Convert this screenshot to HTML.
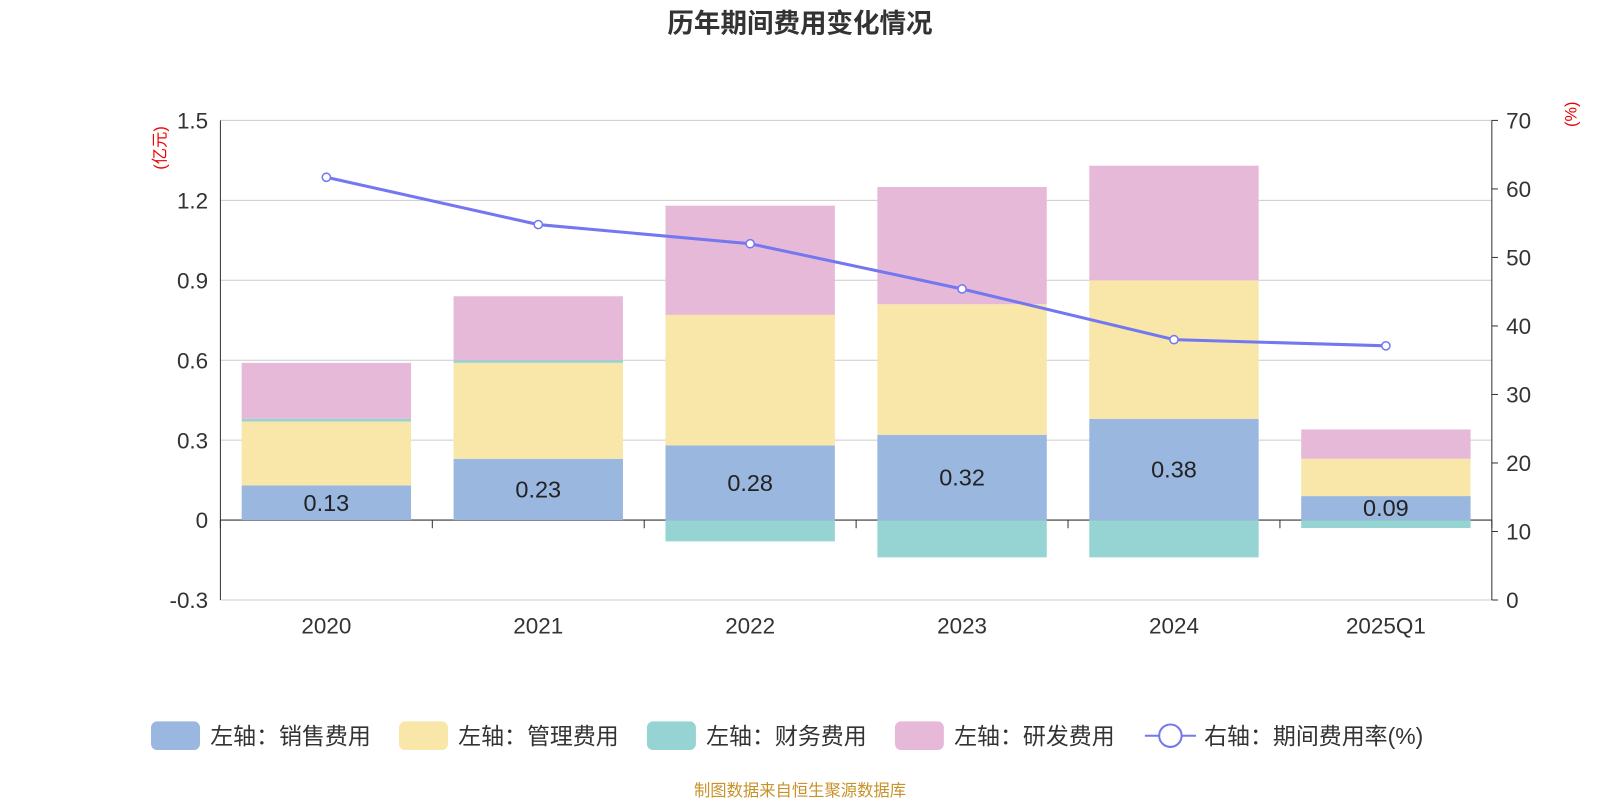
<!DOCTYPE html>
<html><head><meta charset="utf-8"><style>
html,body{margin:0;padding:0;background:#fff;}
svg{display:block;font-family:"Liberation Sans","Noto Sans CJK SC",sans-serif;}
</style></head><body>
<svg id="chart" width="1600" height="800" viewBox="0 0 1568 784" xmlns="http://www.w3.org/2000/svg">
<text x="784" y="32" text-anchor="middle" font-size="26" font-weight="bold" fill="#333">历年期间费用变化情况</text>
<text transform="translate(162,145) rotate(-90)" text-anchor="middle" font-size="16" fill="#e00">(亿元)</text>
<text transform="translate(1545,112) rotate(-90)" text-anchor="middle" font-size="16" fill="#e00">(%)</text>
<g id="grid"></g><g id="bars"></g><g id="axes"></g><g id="line"></g>
<text x="784" y="780" text-anchor="middle" font-size="16" fill="#c8922a">制图数据来自恒生聚源数据库</text>
<g id="legend"></g>
</svg>
<script>
const categories=["2020","2021","2022","2023","2024","2025Q1"];
const sales=[0.13,0.23,0.28,0.32,0.38,0.09];
const admin=[0.24,0.36,0.49,0.49,0.52,0.14];
const finance=[0.01,0.01,-0.08,-0.14,-0.14,-0.03];
const rnd=[0.21,0.24,0.41,0.44,0.43,0.11];
const rate=[61.7,54.8,52.0,45.4,38.0,37.1];
const leftTicks=[-0.3,0,0.3,0.6,0.9,1.2,1.5];
const leftTickLabels=["-0.3","0","0.3","0.6","0.9","1.2","1.5"];
const rightTicks=[0,10,20,30,40,50,60,70];
const NS="http://www.w3.org/2000/svg";
const X0=216,X1=1462,YT=118,YB=588;
const yL=v=>YB-(v+0.3)/1.8*(YB-YT);
const yR=v=>YB-v/70*(YB-YT);
const bw=(X1-X0)/categories.length;
const xc=i=>X0+bw*(i+0.5);
function mk(p,tag,at,txt){const e=document.createElementNS(NS,tag);for(const k in at)e.setAttribute(k,at[k]);if(txt!==undefined)e.textContent=txt;document.getElementById(p).appendChild(e);return e;}
leftTicks.forEach((t,i)=>{
 const g=mk('grid','line',{x1:X0,x2:X1,y1:yL(t),y2:yL(t),stroke:t===0?'#333':'#ccc','stroke-width':t===0?1.2:1});
 
 
 const l=mk('axes','text',{x:X0-12,y:yL(t)+8,'text-anchor':'end','font-size':22,fill:'#333'},leftTickLabels[i]);
 
 
});
rightTicks.forEach(t=>{
 const l=mk('axes','text',{x:X1+14,y:yR(t)+8,'font-size':22,fill:'#333'},String(t));
 
 
 mk('axes','line',{x1:X1,x2:X1+6,y1:yR(t),y2:yR(t),stroke:'#333'});
});
mk('axes','line',{x1:X0,x2:X0,y1:YT,y2:YB,stroke:'#333'});
mk('axes','line',{x1:X1,x2:X1,y1:YT,y2:YB,stroke:'#333'});
for(let i=0;i<=categories.length;i++)mk('axes','line',{x1:X0+bw*i,x2:X0+bw*i,y1:yL(0),y2:yL(0)+8,stroke:'#333'});
const BW=166;
categories.forEach((c,i)=>{
 const x=xc(i)-BW/2;
 const l=mk('axes','text',{x:xc(i),y:621,'text-anchor':'middle','font-size':22,fill:'#333'},c);
 
 
 let pos=0;
 const seg=(v,col,name)=>{const r=mk('bars','rect',{x:x,width:BW,y:yL(pos+v),height:yL(pos)-yL(pos+v),fill:col});pos+=v;};
 seg(sales[i],'#9ab7e0','bar-sales');
 seg(admin[i],'#f8e7a8','bar-admin');
 if(finance[i]>=0){seg(finance[i],'#96d3d3','bar-finance');}
 else{const r=mk('bars','rect',{x:x,width:BW,y:yL(0),height:yL(finance[i])-yL(0),fill:'#96d3d3'});}
 seg(rnd[i],'#e7b9d8','bar-rnd');
 const t=mk('bars','text',{x:xc(i),y:(yL(0)+yL(sales[i]))/2+8,'text-anchor':'middle','font-size':23,fill:'#222'},sales[i].toFixed(2));
 
 
});
const p=mk('line','polyline',{points:rate.map((v,i)=>xc(i)+','+yR(v)).join(' '),fill:'none',stroke:'#7378f0','stroke-width':3});


rate.forEach((v,i)=>{const c=mk('line','circle',{cx:xc(i),cy:yR(v),r:4,fill:'#fff',stroke:'#7378f0','stroke-width':1.5});});
const leg=[["左轴：销售费用",'#9ab7e0',148],["左轴：管理费用",'#f8e7a8',391],["左轴：财务费用",'#96d3d3',634],["左轴：研发费用",'#e7b9d8',877]];
leg.forEach(([t,c,x])=>{
 const r=mk('legend','rect',{x:x,y:707,width:48,height:28,rx:6,fill:c});
 
 
 const tx=mk('legend','text',{x:x+58,y:729,'font-size':22.5,fill:'#333'},t);
 
 
});
mk('legend','line',{x1:1122,x2:1172,y1:721,y2:721,stroke:'#7378f0','stroke-width':2});
mk('legend','circle',{cx:1147,cy:721,r:11,fill:'#fff',stroke:'#7378f0','stroke-width':2});
const lt=mk('legend','text',{x:1180,y:729,'font-size':22.5,fill:'#333'},"右轴：期间费用率(%)");


</script>
</body></html>
